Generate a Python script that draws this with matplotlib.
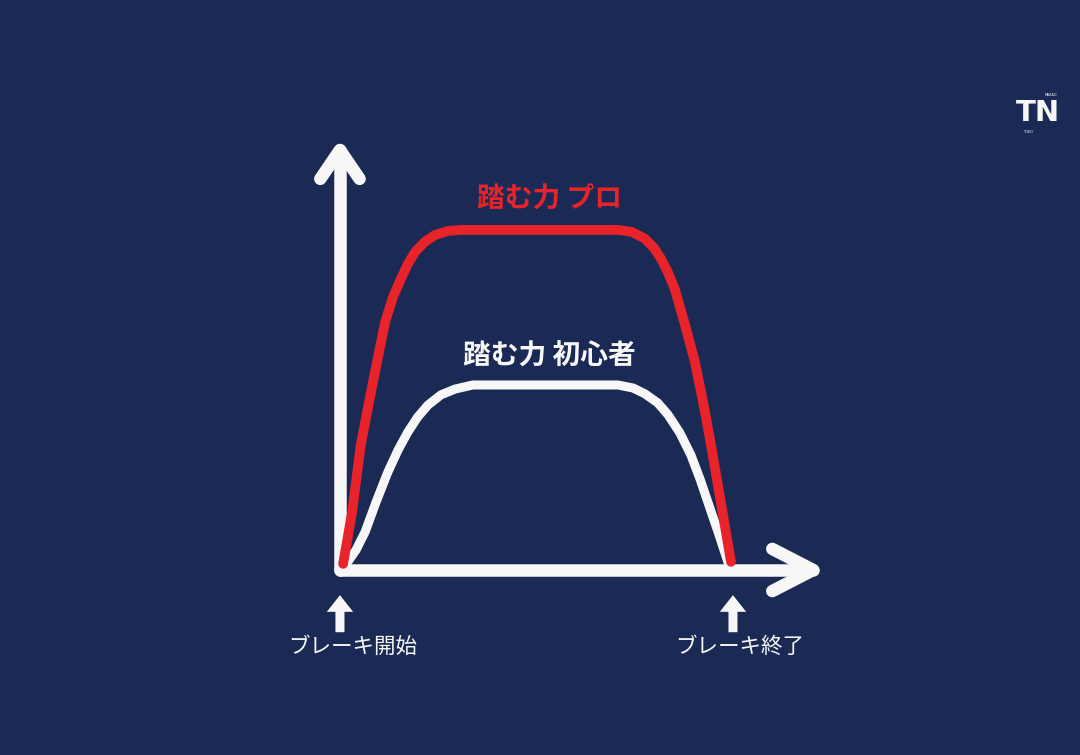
import matplotlib
matplotlib.use("Agg")
import matplotlib.pyplot as plt

plt.rcParams['font.family'] = ['Noto Sans CJK JP', 'DejaVu Sans']

# time (0 = brake start, 1 = brake end) / pedal force (pro plateau = 1)
pro_t = [0.008, 0.031, 0.053, 0.084, 0.115, 0.135, 0.155, 0.173, 0.191, 0.216,
         0.242, 0.275, 0.308, 0.707, 0.743, 0.776, 0.799, 0.817, 0.835, 0.852,
         0.878, 0.903, 0.924, 0.944, 0.969, 0.995]
pro_f = [0.018, 0.171, 0.368, 0.553, 0.729, 0.803, 0.856, 0.900, 0.935, 0.965,
         0.985, 0.997, 1.000, 1.000, 0.994, 0.974, 0.947, 0.915, 0.874, 0.826,
         0.721, 0.612, 0.494, 0.368, 0.200, 0.024]

beg_t = [0.020, 0.041, 0.064, 0.092, 0.122, 0.148, 0.173, 0.198, 0.224, 0.257,
         0.293, 0.338, 0.707, 0.746, 0.776, 0.809, 0.835, 0.865, 0.893, 0.916,
         0.936, 0.962, 0.987]
beg_f = [0.024, 0.059, 0.112, 0.200, 0.288, 0.353, 0.406, 0.450, 0.485, 0.515,
         0.532, 0.544, 0.544, 0.535, 0.518, 0.491, 0.456, 0.403, 0.338, 0.268,
         0.200, 0.112, 0.024]

pro_label = "踏む力 プロ"
beg_label = "踏む力 初心者"
marks = [0.0, 1.0]
mark_labels = ["ブレーキ開始", "ブレーキ終了"]
mark_label_x = [0.033, 1.018]

BG = "#1b2a55"
RED = "#e8232a"
WHITE = "#f7f7f7"

fig = plt.figure(figsize=(10.8, 7.55), dpi=100, facecolor=BG)
ax = fig.add_axes([0, 0, 1, 1])
ax.set_facecolor(BG)
ax.set_xlim(-0.865, 1.883)
ax.set_ylim(-0.544, 1.676)
ax.axis("off")

# axis arrows
axkw = dict(color=WHITE, lw=9, solid_capstyle="round", solid_joinstyle="round")
ax.plot([0, 0], [0, 1.235], **axkw)
ax.plot([-0.05, 0, 0.05], [1.15, 1.235, 1.15], **axkw)
ax.plot([0, 1.204], [0, 0], **axkw)
ax.plot([1.10, 1.204, 1.10], [0.062, 0, -0.062], **axkw)

# curves
ax.plot(beg_t, beg_f, color=WHITE, lw=6.5, solid_capstyle="round",
        solid_joinstyle="round", zorder=3)
ax.plot(pro_t, pro_f, color=RED, lw=7, solid_capstyle="round",
        solid_joinstyle="round", zorder=4)

ax.text(0.534, 1.088, pro_label, color=RED, fontsize=20, fontweight="bold",
        ha="center", va="center")
ax.text(0.534, 0.626, beg_label, color=WHITE, fontsize=20, fontweight="bold",
        ha="center", va="center")

# start / end markers
for t, lx, lab in zip(marks, mark_label_x, mark_labels):
    ax.annotate("", xy=(t, -0.074), xytext=(t, -0.183),
                arrowprops=dict(facecolor=WHITE, edgecolor="none", width=6.5,
                                headwidth=19, headlength=12, shrink=0))
    ax.text(lx, -0.226, lab, color=WHITE, fontsize=15.5,
            ha="center", va="center")

# logo
fig.text(0.961, 0.850, "TN", color=WHITE, fontsize=21, fontweight="bold",
         ha="center", va="center", family="DejaVu Sans")
fig.text(0.973, 0.874, "NAKAO", color=WHITE, fontsize=2.5, ha="center",
         va="center", family="DejaVu Sans")
fig.text(0.952, 0.825, "TOKO", color=WHITE, fontsize=2.5, ha="center",
         va="center", family="DejaVu Sans")

fig.savefig("out.png", dpi=100, facecolor=BG)
